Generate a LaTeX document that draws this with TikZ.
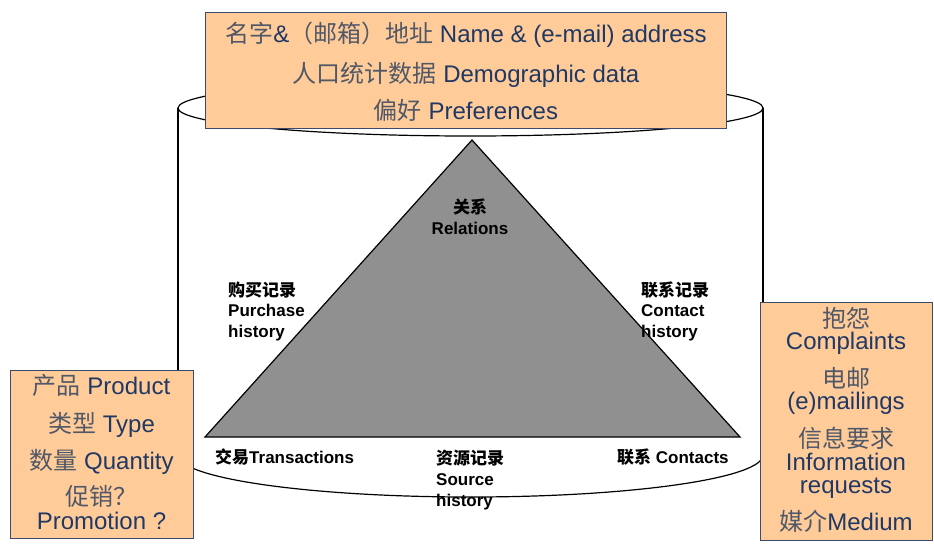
\documentclass[tikz,border=0pt]{standalone}
\usepackage{fontspec}
\setmainfont{Liberation Sans}
\newfontfamily\cjk{Noto Sans CJK SC}
\definecolor{navy}{RGB}{31,56,100}
\definecolor{cjkgray}{RGB}{80,88,104}
\definecolor{peach}{RGB}{255,204,153}
\definecolor{boxedge}{RGB}{60,75,105}
\definecolor{trigray}{RGB}{144,144,144}
\newcommand{\cn}[1]{{\cjk\color{cjkgray}#1}}
\begin{document}
\begin{tikzpicture}[x=1pt,y=-1pt,
  infobox/.style={draw=boxedge,fill=peach,line width=0.9pt},
  boxtext/.style={anchor=base,inner sep=0pt,text=navy,font=\fontsize{24}{28}\selectfont},
  trilabel/.style={anchor=base west,inner sep=0pt,text=black,font=\bfseries\fontsize{17}{19}\selectfont},
  cyl/.style={line width=1.2pt,draw=black}]
\useasboundingbox (0,0) rectangle (934,550);
% cylinder
\draw[cyl] (470.5,108) ellipse [x radius=292.5,y radius=28];
\draw[cyl] (178,108) -- (178,455);
\draw[cyl] (763,108) -- (763,455);
\draw[cyl] (763,455) arc[start angle=0,end angle=180,x radius=292.5,y radius=42];
% triangle
\draw[line width=1.2pt,fill=trigray] (472,140) -- (740,437) -- (205,437) -- cycle;
% triangle labels
\node[trilabel,anchor=base] (relcn) at (470,213) {\cjk 关系};
\node[trilabel,anchor=base] (rel) at (470,234) {Relations};
\node[trilabel] (purcn) at (228,296) {\cjk 购买记录};
\node[trilabel] (pur1) at (228,316) {Purchase};
\node[trilabel] (pur2) at (228,337) {history};
\node[trilabel] (concn) at (641,296) {\cjk 联系记录};
\node[trilabel] (con1) at (641,316) {Contact};
\node[trilabel] (con2) at (641,337) {history};
\node[trilabel] (trans) at (215,463) {{\cjk 交易}Transactions};
\node[trilabel] (srccn) at (436,464) {\cjk 资源记录};
\node[trilabel] (src1) at (436,485) {Source};
\node[trilabel] (src2) at (436,506) {history};
\node[trilabel] (contacts) at (617,463) {{\cjk 联系} Contacts};
% top box
\draw[infobox] (205,12) rectangle (726,128);
\node[boxtext] (name) at (466,42) {\cn{名字}\&\cn{（邮箱）地址} Name \& (e-mail) address};
\node[boxtext] (demo) at (466,82) {\cn{人口统计数据} Demographic data};
\node[boxtext] (pref) at (466,119) {\cn{偏好} Preferences};
% left box
\draw[infobox] (10,370) rectangle (193,538);
\node[boxtext] (prod) at (101.5,394) {\cn{产品} Product};
\node[boxtext] (type) at (101.5,432) {\cn{类型} Type};
\node[boxtext] (qty) at (101.5,469) {\cn{数量} Quantity};
\node[boxtext] (promcn) at (101.5,505) {\cn{促销？}};
\node[boxtext] (prom) at (101.5,529) {Promotion ?};
% right box
\draw[infobox] (760,302) rectangle (932,540);
\node[boxtext] (compcn) at (846,327) {\cn{抱怨}};
\node[boxtext] (comp) at (846,349) {Complaints};
\node[boxtext] (mailcn) at (846,387) {\cn{电邮}};
\node[boxtext] (mail) at (846,409) {(e)mailings};
\node[boxtext] (infocn) at (846,447) {\cn{信息要求}};
\node[boxtext] (info1) at (846,470) {Information};
\node[boxtext] (info2) at (846,493) {requests};
\node[boxtext] (medium) at (846,530) {\cn{媒介}Medium};
\end{tikzpicture}
\end{document}
